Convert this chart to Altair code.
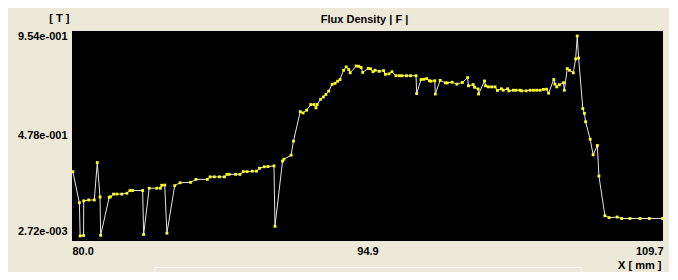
import altair as alt
import pandas as pd

# Position along the scan [mm]
X_MM = [80.04, 80.37, 80.41, 80.58, 80.59, 80.84, 81.12, 81.27, 81.41, 81.44,
        81.87, 81.93, 82.09, 82.26, 82.50, 82.76, 82.91, 83.04, 83.55, 83.60,
        83.88, 84.26, 84.44, 84.51, 84.66, 84.77, 85.16, 85.43, 85.96, 86.23,
        86.80, 86.94, 87.15, 87.41, 87.66, 87.79, 87.90, 88.22, 88.44, 88.61,
        88.80, 89.06, 89.27, 89.42, 89.66, 89.85, 90.15, 90.20, 90.58, 90.65,
        91.01, 91.13, 91.47, 91.61, 91.79, 92.00, 92.16, 92.26, 92.32, 92.49,
        92.63, 92.76, 92.90, 93.07, 93.22, 93.35, 93.47, 93.65, 93.78, 93.91,
        93.98, 94.28, 94.41, 94.53, 94.61, 94.89, 95.00, 95.13, 95.23, 95.44,
        95.66, 95.75, 95.93, 96.08, 96.28, 96.45, 96.58, 96.81, 97.01, 97.29,
        97.32, 97.54, 97.67, 97.82, 97.96, 98.04, 98.23, 98.26, 98.50, 98.77,
        98.86, 99.10, 99.34, 99.62, 99.88, 99.92, 100.16, 100.23, 100.41, 100.43,
        100.73, 100.78, 100.92, 101.09, 101.26, 101.38, 101.58, 101.67, 101.89, 101.96,
        102.18, 102.31, 102.51, 102.60, 102.82, 103.02, 103.19, 103.35, 103.52, 103.69,
        103.85, 103.95, 104.21, 104.27, 104.36, 104.49, 104.70, 104.74, 104.89, 105.00,
        105.19, 105.31, 105.39, 105.46, 105.67, 105.75, 105.81, 106.04, 106.19, 106.40,
        106.48, 106.78, 106.99, 107.40, 107.62, 108.04, 108.55, 109.01, 109.68]

# Flux density |F| [T]
B_T = [0.309, 0.161, 0.003, 0.005, 0.170, 0.174, 0.174, 0.352, 0.188, 0.006,
       0.187, 0.189, 0.202, 0.202, 0.202, 0.206, 0.219, 0.219, 0.219, 0.010,
       0.230, 0.230, 0.230, 0.244, 0.245, 0.016, 0.242, 0.256, 0.258, 0.272,
       0.272, 0.284, 0.284, 0.284, 0.284, 0.296, 0.296, 0.296, 0.296, 0.309,
       0.309, 0.311, 0.311, 0.325, 0.332, 0.333, 0.336, 0.049, 0.359, 0.368,
       0.387, 0.454, 0.594, 0.588, 0.601, 0.628, 0.628, 0.612, 0.628, 0.653,
       0.664, 0.676, 0.692, 0.724, 0.729, 0.739, 0.747, 0.791, 0.807, 0.794,
       0.779, 0.811, 0.810, 0.804, 0.781, 0.800, 0.798, 0.784, 0.791, 0.786,
       0.789, 0.772, 0.774, 0.784, 0.765, 0.765, 0.765, 0.765, 0.765, 0.765,
       0.680, 0.747, 0.748, 0.751, 0.741, 0.739, 0.741, 0.678, 0.743, 0.731,
       0.731, 0.734, 0.725, 0.733, 0.756, 0.717, 0.723, 0.710, 0.702, 0.678,
       0.740, 0.717, 0.712, 0.712, 0.712, 0.695, 0.703, 0.696, 0.703, 0.693,
       0.696, 0.696, 0.696, 0.693, 0.693, 0.696, 0.696, 0.696, 0.696, 0.700,
       0.701, 0.682, 0.747, 0.725, 0.712, 0.722, 0.732, 0.696, 0.799, 0.791,
       0.779, 0.845, 0.954, 0.849, 0.609, 0.586, 0.546, 0.463, 0.389, 0.433,
       0.288, 0.099, 0.090, 0.093, 0.086, 0.086, 0.086, 0.086, 0.086]

X_TICKS = [80.0, 94.85, 109.7]
X_TICK_LABELS = ["80.0", "94.9", "109.7"]
Y_TICKS = [0.00272, 0.4784, 0.954]
Y_TICK_LABELS = ["2.72e-003", "4.78e-001", "9.54e-001"]

TITLE = "Flux Density | F |"
Y_UNIT = "[ T ]"
X_UNIT = "X [ mm ]"

FONT = "Liberation Sans"
BEIGE = "#ECE9D8"


def label_expr(vals, labels):
    expr = "''"
    for v, l in zip(reversed(vals), reversed(labels)):
        expr = f"(abs(datum.value - {v}) < 1e-6) ? '{l}' : ({expr})"
    return expr


df = pd.DataFrame({"x": X_MM, "y": B_T})

x_enc = alt.X(
    "x:Q",
    scale=alt.Scale(domain=[X_TICKS[0], X_TICKS[-1]], nice=False, zero=False),
    axis=alt.Axis(
        values=X_TICKS,
        labelExpr=label_expr(X_TICKS, X_TICK_LABELS),
        labelFlush=True,
        ticks=False,
        domain=False,
        grid=False,
        labelPadding=4,
        labelFont=FONT,
        labelFontSize=11,
        labelFontWeight="bold",
        labelColor="#000000",
        title=X_UNIT,
        titleFont=FONT,
        titleFontSize=11,
        titleFontWeight="bold",
        titleColor="#000000",
        titleAlign="right",
        titleBaseline="middle",
        titleAnchor="end",
        titleX=589,
        titleY=24,
    ),
)

y_enc = alt.Y(
    "y:Q",
    scale=alt.Scale(domain=[Y_TICKS[0], Y_TICKS[-1]], nice=False, zero=False, padding=5),
    axis=alt.Axis(
        values=Y_TICKS,
        labelExpr=label_expr(Y_TICKS, Y_TICK_LABELS),
        labelBaseline={"condition": {"test": "datum.value < 0.1", "value": "bottom"},
                       "value": "middle"},
        ticks=False,
        domain=False,
        grid=False,
        labelPadding=5,
        labelFont=FONT,
        labelFontSize=11,
        labelFontWeight="bold",
        labelColor="#000000",
        title=Y_UNIT,
        titleFont=FONT,
        titleFontSize=11,
        titleFontWeight="bold",
        titleColor="#000000",
        titleAngle=0,
        titleAlign="right",
        titleBaseline="middle",
        titleX=-3,
        titleY=-13,
    ),
)

line = alt.Chart(df).mark_line(color="#e4e4e4", strokeWidth=1, clip=True).encode(
    x=x_enc, y=y_enc, order="x:Q"
)
pts = alt.Chart(df).mark_square(color="#ffff20", size=8, opacity=1).encode(
    x="x:Q", y="y:Q"
)

box = alt.Chart(alt.Data(values=[{}])).mark_rect(
    filled=False, stroke="#ffffff", strokeWidth=1
).encode(
    x=alt.value(82.5), x2=alt.value(509.5), y=alt.value(236.5), y2=alt.value(270)
)

chart = alt.layer(line, pts, box).properties(
    width=591,
    height=210,
    background=BEIGE,
    padding={"left": 64, "top": 23, "right": 6, "bottom": 31},
    autosize=alt.AutoSizeParams(type="none"),
    title=alt.TitleParams(
        TITLE, font=FONT, fontSize=11, fontWeight="bold", color="#000000",
        anchor="middle", baseline="alphabetic", offset=0, dx=-3, dy=22,
        frame="group",
    ),
).configure_view(fill="#000000", stroke=None)

chart.save("out.html", embed_options={"renderer": "svg", "actions": False})
